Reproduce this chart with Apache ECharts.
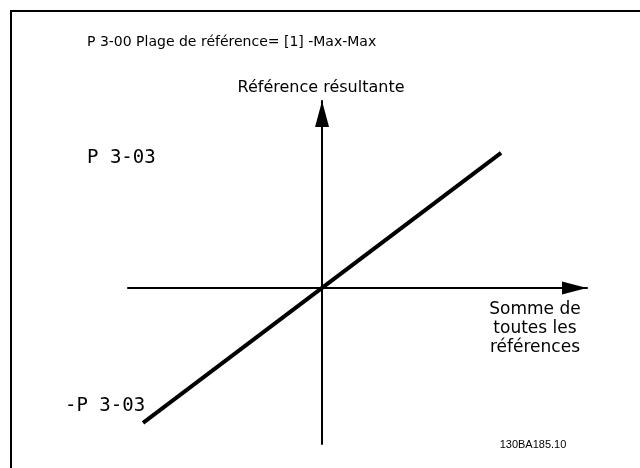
<!DOCTYPE html>
<html>
<head>
<meta charset="utf-8">
<script src="https://cdn.jsdelivr.net/npm/echarts@6/dist/echarts.min.js"></script>
<style>
  html, body { margin: 0; padding: 0; background: #fff; }
  #chart { width: 640px; height: 468px; }
</style>
</head>
<body>
<div id="chart"></div>
<script>
// valeurs de la courbe (référence résultante = somme des références, de -P 3-03 à P 3-03)
const sumRef = [-1, 0, 1];
const resultRef = [-1, 0, 1];
const xRange = [-1.084, 1.48];
const yRange = [-1.156, 1.385];

const titleText = 'P 3-00 Plage de référence= [1] -Max-Max';
const yAxisName = 'Référence résultante';
const xAxisName = 'Somme de\ntoutes les\nréférences';
const maxLabel = 'P 3-03';
const minLabel = '-P 3-03';
const docCode = '130BA185.10';

const chart = echarts.init(document.getElementById('chart'));

const option = {
  backgroundColor: '#fff',
  animation: false,
  grid: { left: 128, right: 53, top: 101, bottom: 24 },
  xAxis: {
    type: 'value',
    min: xRange[0],
    max: xRange[1],
    splitLine: { show: false },
    axisTick: { show: false },
    axisLabel: { show: false },
    axisLine: {
      onZero: true,
      symbol: ['none', 'triangle'],
      symbolSize: [13, 25],
      symbolOffset: [0, -12.5],
      lineStyle: { color: '#000', width: 2 }
    }
  },
  yAxis: {
    type: 'value',
    min: yRange[0],
    max: yRange[1],
    splitLine: { show: false },
    axisTick: { show: false },
    axisLabel: { show: false },
    axisLine: {
      onZero: true,
      symbol: ['none', 'triangle'],
      symbolSize: [14, 26],
      symbolOffset: [0, -13],
      lineStyle: { color: '#000', width: 2 }
    }
  },
  series: [{
    type: 'line',
    data: sumRef.map((x, i) => [x, resultRef[i]]),
    showSymbol: false,
    lineStyle: { color: '#000', width: 4 },
    z: 3
  }],
  graphic: [
    // cadre
    { type: 'polyline', shape: { points: [[11, 468], [11, 11], [640, 11]] },
      style: { stroke: '#000', lineWidth: 2, fill: null } },
    { type: 'text', x: 87, y: 42,
      style: { text: titleText, font: '14px "DejaVu Sans"', fill: '#000', textVerticalAlign: 'middle' } },
    { type: 'text', x: 321, y: 88,
      style: { text: yAxisName, font: '16px "DejaVu Sans"', fill: '#000', textAlign: 'center', textVerticalAlign: 'middle' } },
    { type: 'text', x: 535, y: 329,
      style: { text: xAxisName, font: '17px "DejaVu Sans"', fill: '#000', textAlign: 'center', textVerticalAlign: 'middle', lineHeight: 19 } },
    { type: 'text', x: 87, y: 158,
      style: { text: maxLabel, font: '19px "DejaVu Sans Mono"', fill: '#000', textVerticalAlign: 'middle' } },
    { type: 'text', x: 65, y: 406,
      style: { text: minLabel, font: '19px "DejaVu Sans Mono"', fill: '#000', textVerticalAlign: 'middle' } },
    { type: 'text', x: 533, y: 445,
      style: { text: docCode, font: '11px "Liberation Sans Narrow", "Liberation Sans"', fill: '#000', textAlign: 'center', textVerticalAlign: 'middle' } }
  ]
};

chart.setOption(option);
</script>
</body>
</html>
